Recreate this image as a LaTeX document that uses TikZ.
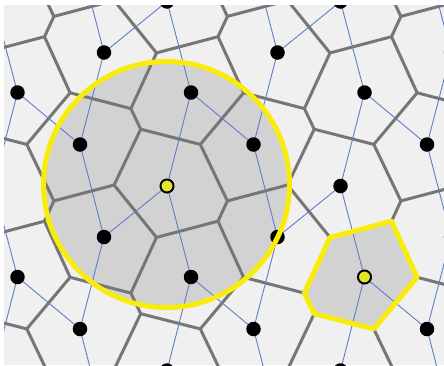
\documentclass[tikz,border=0pt]{standalone}
\definecolor{bgc}{RGB}{240,240,240}
\definecolor{cellfill}{RGB}{210,210,210}
\definecolor{edgec}{RGB}{118,118,118}
\definecolor{delc}{RGB}{96,124,200}
\definecolor{hiyel}{RGB}{250,236,10}
\definecolor{dotyel}{RGB}{228,228,40}
\tikzset{
 vedge/.style={draw=edgec,line width=3pt,line cap=round,line join=round},
 dedge/.style={draw=delc,line width=0.9pt},
 site/.style={circle,fill=black,inner sep=0pt,minimum size=14.5pt},
 hisite/.style={circle,fill=dotyel,draw=black,line width=1.9pt,inner sep=0pt,minimum size=13pt},
 hiline/.style={draw=hiyel,line width=5pt,line join=round},
}
\begin{document}
\begin{tikzpicture}[x=1pt,y=-1pt]
\useasboundingbox (0,0) rectangle (444,365);
\fill[white] (0,0) rectangle (444,365);
% site coordinates (index 2 = base cell)
\foreach \i in {0,...,6}{
 \foreach \j in {0,...,5}{
  \coordinate (p0-\i-\j) at ({167+173.5*(\i-2)},{186+184.5*(\j-2)});
  \coordinate (p1-\i-\j) at ({104+173.5*(\i-2)},{237+184.5*(\j-2)});
  \coordinate (p2-\i-\j) at ({191+173.5*(\i-2)},{277+184.5*(\j-2)});
  \coordinate (p3-\i-\j) at ({80+173.5*(\i-2)},{329+184.5*(\j-2)});
 }}
\begin{scope}
\clip (4,5) rectangle (444,365);
\fill[bgc] (4,5) rectangle (444,365);
\fill[cellfill] (166.5,184.5) circle (123);
\fill[cellfill] (330,237.4) -- (391.5,221.2) -- (417.1,277.3) -- (373.8,328.9) -- (314.2,313.7) -- (304.4,293.1) -- cycle;
% Voronoi edges
\foreach \i in {-1,...,3}{
 \foreach \j in {-1,...,2}{
  \begin{scope}[shift={({173.5*\i},{184.5*\j})}]
   \draw[vedge] (140.7,129.2) -- (200.3,144.4) -- (227.4,200.9) -- (218,221.2) -- (156.5,237.4) -- (114.1,185) -- cycle;
   \draw[vedge] (156.5,237.4) -- (130.9,293.1) -- (70.1,277.3);
   \draw[vedge] (140.7,129.2) -- (130.9,108.6);
   \draw[vedge] (70.1,277.3) -- (44.5,221.2);
   \draw[vedge] (70.1,277.3) -- (26.8,328.9);
   \draw[vedge] (114.1,185) -- (53.9,200.9);
  \end{scope}
 }}
% neighbour links
\foreach \i in {1,...,5}{
 \foreach \j in {1,...,4}{
  \pgfmathtruncatemacro\im{\i-1}
  \pgfmathtruncatemacro\jm{\j-1}
  \draw[dedge] (p0-\i-\j) -- (p2-\i-\jm);
  \draw[dedge] (p0-\i-\j) -- (p2-\i-\j);
  \draw[dedge] (p0-\i-\j) -- (p1-\i-\j);
  \draw[dedge] (p1-\i-\j) -- (p3-\i-\jm);
  \draw[dedge] (p1-\i-\j) -- (p3-\i-\j);
  \draw[dedge] (p3-\i-\j) -- (p2-\im-\j);
 }}
% sites
\foreach \i in {1,...,5}{
 \foreach \j in {1,...,4}{
  \node[site] (d0-\i-\j) at (p0-\i-\j) {};
  \node[site] (d1-\i-\j) at (p1-\i-\j) {};
  \node[site] (d2-\i-\j) at (p2-\i-\j) {};
  \node[site] (d3-\i-\j) at (p3-\i-\j) {};
 }}
\node[hisite] (hA) at (p0-2-2) {};
\node[hisite] (hB) at (p2-3-2) {};
% highlights
\draw[hiline] (166.5,184.5) circle (123);
\draw[hiline] (330,237.4) -- (391.5,221.2) -- (417.1,277.3) -- (373.8,328.9) -- (314.2,313.7) -- (304.4,293.1) -- cycle;
\end{scope}
\end{tikzpicture}
\end{document}
